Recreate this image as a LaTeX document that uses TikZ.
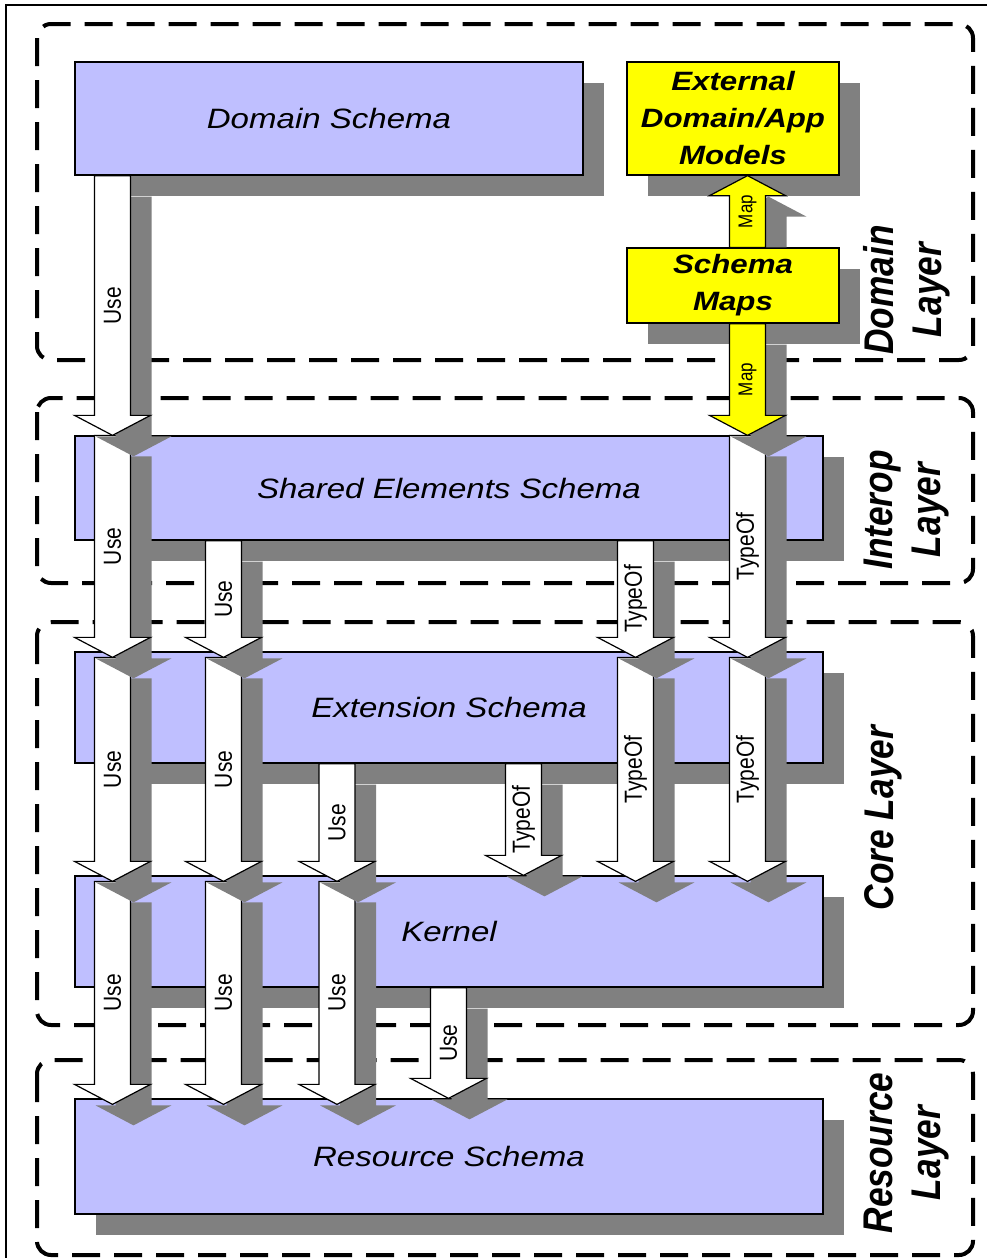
\documentclass[tikz,border=0pt]{standalone}
\usepackage{fontspec}
\setmainfont{Liberation Sans}
\newfontfamily\boxfont[FakeStretch=1.18]{Liberation Sans}
\newfontfamily\tagfont[FakeStretch=0.85]{Liberation Sans}
\usetikzlibrary{calc,shadows}

\definecolor{schemablue}{RGB}{191,191,255}
\definecolor{mapyellow}{RGB}{255,255,0}
\definecolor{shadowgray}{RGB}{128,128,128}

\tikzset{
  layer/.style={draw=black,line width=4pt,dash pattern=on 28pt off 14pt,rounded corners=14pt},
  schema/.style={draw=black,line width=1.3pt,fill=schemablue,inner sep=0pt,
    font=\boxfont\itshape\fontsize{28}{34}\selectfont,
    drop shadow={shadow xshift=21pt,shadow yshift=-21pt,fill=shadowgray,opacity=1}},
  extschema/.style={schema,fill=mapyellow,align=center,
    font=\boxfont\bfseries\itshape\fontsize{26.5}{37}\selectfont},
  arrowtag/.style={rotate=90,inner sep=0pt,font=\tagfont\fontsize{24.7}{30}\selectfont},
  layertag/.style={rotate=90,align=center,inner sep=0pt,
    font=\tagfont\bfseries\itshape\fontsize{41.5}{48}\selectfont},
}

% block arrow with its shadow: [fill]{start}{tip}{label}
\newcommand{\bigarrow}[4][white]{%
  \fill[shadowgray] let \p1=#2,\p2=#3,\n1={\y2+20*sign(\y1-\y2)},\n2={\y1-21*max(sign(\y1-\y2),0)} in
    (\x1+3pt,\n2*1pt) -- (\x1+3pt,\n1*1pt-21pt) -- (\x1-17pt,\n1*1pt-21pt) -- (\x2+21pt,\y2-21pt)
    -- (\x1+59pt,\n1*1pt-21pt) -- (\x1+39pt,\n1*1pt-21pt) -- (\x1+39pt,\n2*1pt) -- cycle;
  \draw[fill=#1,line width=1.2pt] let \p1=#2,\p2=#3,\n1={\y2+20*sign(\y1-\y2)} in
    (\x1-18pt,\y1) -- (\x1-18pt,\n1*1pt) -- (\x1-38pt,\n1*1pt) -- (\x2,\y2)
    -- (\x1+38pt,\n1*1pt) -- (\x1+18pt,\n1*1pt) -- (\x1+18pt,\y1) -- cycle;
  \path #2 -- #3 node[midway,arrowtag] {#4};
}

\begin{document}
\begin{tikzpicture}[x=1pt,y=-1pt]
  \useasboundingbox (0,0) rectangle (986,1258);
  \fill[white] (0,0) rectangle (986,1258);
  \draw[line width=1.2pt] (6,5) rectangle (1000,1270);

  % layers
  \draw[layer] (37,24) rectangle (973,360);
  \draw[layer] (37,398) rectangle (973,583);
  \draw[layer] (37,622) rectangle (973,1025);
  \draw[layer] (37,1060) rectangle (973,1255);

  \node[layertag] (domL) at (907,290) {Domain\\Layer};
  \node[layertag] (intL) at (907,510) {Interop\\Layer};
  \node[layertag] (corL) at (883,818) {Core Layer};
  \node[layertag] (resL) at (907,1153) {Resource\\Layer};

  % schemas
  \node[schema,minimum width=508,minimum height=113] (dom) at (329,118.5) {Domain Schema};
  \node[extschema,minimum width=212,minimum height=113] (ext) at (733,118.5) {External\\Domain/App\\Models};
  \node[extschema,minimum width=212,minimum height=75] (map) at (733,285.5) {Schema\\Maps};
  \node[schema,minimum width=748,minimum height=104] (shr) at (449,488) {Shared Elements Schema};
  \node[schema,minimum width=748,minimum height=111] (exs) at (449,707.5) {Extension Schema};
  \node[schema,minimum width=748,minimum height=111] (ker) at (449,931.5) {Kernel};
  \node[schema,minimum width=748,minimum height=115] (res) at (449,1156.5) {Resource Schema};

  \foreach \c/\x in {A/112.5,B/223.5,C/337,D/448.5,E/523.5,F/635.5,G/747.5}
    \coordinate (col\c) at (\x,0);

  % kernel -> resource
  \bigarrow{($(ker.north -| colA)+(0,6)$)}{($(res.north -| colA)+(0,6)$)}{Use}
  \bigarrow{($(ker.north -| colB)+(0,6)$)}{($(res.north -| colB)+(0,6)$)}{Use}
  \bigarrow{($(ker.north -| colC)+(0,6)$)}{($(res.north -| colC)+(0,6)$)}{Use}
  \bigarrow{(ker.south -| colD)}{(res.north -| colD)}{Use}

  % extension -> kernel
  \bigarrow{($(exs.north -| colA)+(0,6)$)}{($(ker.north -| colA)+(0,6)$)}{Use}
  \bigarrow{($(exs.north -| colB)+(0,6)$)}{($(ker.north -| colB)+(0,6)$)}{Use}
  \bigarrow{(exs.south -| colC)}{($(ker.north -| colC)+(0,6)$)}{Use}
  \bigarrow{(exs.south -| colE)}{(ker.north -| colE)}{TypeOf}
  \bigarrow{($(exs.north -| colF)+(0,6)$)}{($(ker.north -| colF)+(0,6)$)}{TypeOf}
  \bigarrow{($(exs.north -| colG)+(0,6)$)}{($(ker.north -| colG)+(0,6)$)}{TypeOf}

  % shared -> extension
  \bigarrow{(shr.north -| colA)}{($(exs.north -| colA)+(0,6)$)}{Use}
  \bigarrow{(shr.south -| colB)}{($(exs.north -| colB)+(0,6)$)}{Use}
  \bigarrow{(shr.south -| colF)}{($(exs.north -| colF)+(0,6)$)}{TypeOf}
  \bigarrow{(shr.north -| colG)}{($(exs.north -| colG)+(0,6)$)}{TypeOf}

  % domain layer
  \bigarrow{(dom.south -| colA)}{(shr.north -| colA)}{Use}
  \bigarrow[mapyellow]{(map.south -| colG)}{(shr.north -| colG)}{\fontsize{20}{24}\selectfont Map}
  \bigarrow[mapyellow]{(map.north -| colG)}{(ext.south -| colG)}{\fontsize{20}{24}\selectfont Map}
\end{tikzpicture}
\end{document}
